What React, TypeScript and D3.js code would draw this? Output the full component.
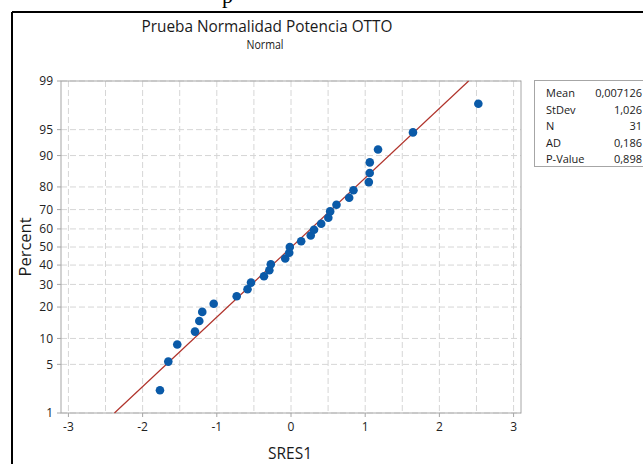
import React from "react";
import * as d3 from "d3";

const residuals: number[] = [
  -1.766, -1.654, -1.533, -1.294, -1.236, -1.196, -1.042, -0.732, -0.586, -0.539,
  -0.364, -0.292, -0.272, -0.078, -0.024, -0.016, 0.137, 0.266, 0.31, 0.407,
  0.503, 0.528, 0.613, 0.784, 0.842, 1.049, 1.061, 1.062, 1.173, 1.644, 2.525,
];
const yTicks: number[] = [1, 5, 10, 20, 30, 40, 50, 60, 70, 80, 90, 95, 99];
const xTicks: number[] = [-3, -2, -1, 0, 1, 2, 3];
const xGrid: number[] = [-3, -2.5, -2, -1.5, -1, -0.5, 0, 0.5, 1, 1.5, 2, 2.5, 3];
const statLabels: string[] = ["Mean", "StDev", "N", "AD", "P-Value"];
const statValues: string[] = ["0,007126", "1,026", "31", "0,186", "0,898"];
const fitMean = 0.007126;
const fitSd = 1.026;

// inverse standard normal CDF (Acklam)
function probit(p: number): number {
  const a = [-3.969683028665376e1, 2.209460984245205e2, -2.759285104469687e2, 1.38357751867269e2, -3.066479806614716e1, 2.506628277459239];
  const b = [-5.447609879822406e1, 1.615858368580409e2, -1.556989798598866e2, 6.680131188771972e1, -1.328068155288572e1];
  const c = [-7.784894002430293e-3, -3.223964580411365e-1, -2.400758277161838, -2.549732539343734, 4.374664141464968, 2.938163982698783];
  const d = [7.784695709041462e-3, 3.224671290700398e-1, 2.445134137142996, 3.754408661907416];
  const pl = 0.02425;
  if (p < pl) {
    const q = Math.sqrt(-2 * Math.log(p));
    return (((((c[0] * q + c[1]) * q + c[2]) * q + c[3]) * q + c[4]) * q + c[5]) / ((((d[0] * q + d[1]) * q + d[2]) * q + d[3]) * q + 1);
  }
  if (p > 1 - pl) {
    const q = Math.sqrt(-2 * Math.log(1 - p));
    return -(((((c[0] * q + c[1]) * q + c[2]) * q + c[3]) * q + c[4]) * q + c[5]) / ((((d[0] * q + d[1]) * q + d[2]) * q + d[3]) * q + 1);
  }
  const q = p - 0.5;
  const r = q * q;
  return ((((((a[0] * r + a[1]) * r + a[2]) * r + a[3]) * r + a[4]) * r + a[5]) * q) / (((((b[0] * r + b[1]) * r + b[2]) * r + b[3]) * r + b[4]) * r + 1);
}

export default function App() {
  const left = 61, right = 521, top = 81, bottom = 413;
  const x = d3.scaleLinear().domain([-3.1, 3.1]).range([left, right]);
  const zMax = probit(0.99);
  const y = d3.scaleLinear().domain([-zMax, zMax]).range([bottom, top]);
  const n = residuals.length;
  const pts = residuals.map((v, i) => ({ x: v, z: probit((i + 1 - 0.3) / (n + 0.4)) }));
  const line = d3.line<number>().x((z) => x(fitMean + fitSd * z)).y((z) => y(z));
  const font = "'Open Sans', 'Noto Sans', sans-serif";
  const gridColor = "#d6d6d6";
  const axisColor = "#a6a6a6";
  const ink = "#1a1a1a";
  return (
    <svg width={643} height={464} style={{ position: "absolute", left: 0, top: 0, background: "#fff" }} fontFamily={font}>
      <rect x={0} y={0} width={643} height={464} fill="#fff" />
      <text x={222} y={3} fontFamily="'Liberation Serif', serif" fontSize={22} fill="#000">p</text>
      <line x1={12} x2={643} y1={12} y2={12} stroke="#000" strokeWidth={2} />
      <line x1={12} x2={12} y1={12} y2={464} stroke="#000" strokeWidth={2} />
      <text x={267} y={31.5} textAnchor="middle" fontSize={16} fill={ink} textLength={251} lengthAdjust="spacingAndGlyphs">Prueba Normalidad Potencia OTTO</text>
      <text x={265} y={49} textAnchor="middle" fontSize={13} fill={ink} textLength={37} lengthAdjust="spacingAndGlyphs">Normal</text>
      {/* grid */}
      {xGrid.map((g) => (
        <line key={"gx" + g} x1={x(g)} x2={x(g)} y1={top} y2={bottom} stroke={gridColor} strokeDasharray="6,3" />
      ))}
      {yTicks.map((t) => (
        <line key={"gy" + t} x1={left} x2={right} y1={y(probit(t / 100))} y2={y(probit(t / 100))} stroke={gridColor} strokeDasharray="6,3" />
      ))}
      {/* frame */}
      <rect x={left} y={top} width={right - left} height={bottom - top} fill="none" stroke={axisColor} strokeWidth={1} />
      {yTicks.map((t) => (
        <g key={"yt" + t}>
          <line x1={left - 4} x2={left} y1={y(probit(t / 100))} y2={y(probit(t / 100))} stroke={axisColor} />
          <text x={53} y={y(probit(t / 100))} dy="0.35em" textAnchor="end" fontSize={12} fill="#222">{t}</text>
        </g>
      ))}
      {xTicks.map((t) => (
        <g key={"xt" + t}>
          <line x1={x(t)} x2={x(t)} y1={bottom} y2={bottom + 4} stroke={axisColor} />
          <text x={x(t)} y={431} textAnchor="middle" fontSize={12} fill="#222">{t}</text>
        </g>
      ))}
      <text transform="translate(31,247) rotate(-90)" textAnchor="middle" fontSize={16} fill={ink} textLength={59} lengthAdjust="spacingAndGlyphs">Percent</text>
      <text x={290} y={459} textAnchor="middle" fontSize={16} fill={ink} textLength={44} lengthAdjust="spacingAndGlyphs">SRES1</text>
      {/* fit line */}
      <path d={line([-zMax, zMax]) || ""} fill="none" stroke="#b0332b" strokeWidth={1.2} />
      {pts.map((p, i) => (
        <circle key={i} cx={x(p.x)} cy={y(p.z)} r={4.3} fill="#0a5aa8" />
      ))}
      {/* stats box */}
      <rect x={534.5} y={80.5} width={120} height={86} fill="#fff" stroke="#a6a6a6" />
      {statLabels.map((s, i) => (
        <g key={s}>
          <text x={546} y={97 + i * 16.5} fontSize={11} fill={ink}>{s}</text>
          <text x={642} y={97 + i * 16.5} textAnchor="end" fontSize={11} fill={ink}>{statValues[i]}</text>
        </g>
      ))}
    </svg>
  );
}
